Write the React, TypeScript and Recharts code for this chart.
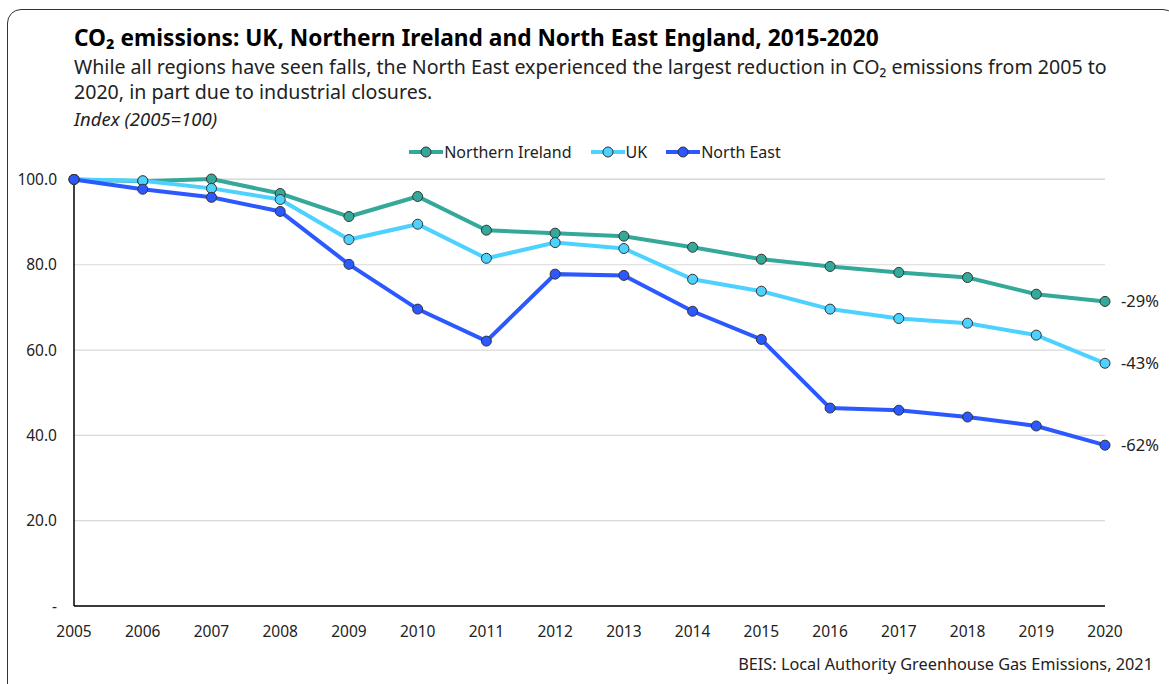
import React from "react";
import { LineChart, Line, XAxis, YAxis, CartesianGrid, LabelList } from "recharts";

const years = ["2005","2006","2007","2008","2009","2010","2011","2012","2013","2014","2015","2016","2017","2018","2019","2020"];
const northernIreland = [100, 99.6, 100.1, 96.7, 91.3, 96.0, 88.1, 87.4, 86.7, 84.1, 81.3, 79.6, 78.2, 77.0, 73.1, 71.4];
const uk = [100, 99.7, 97.9, 95.3, 85.9, 89.5, 81.5, 85.2, 83.8, 76.6, 73.8, 69.6, 67.4, 66.3, 63.5, 56.9];
const northEast = [100, 97.7, 95.8, 92.5, 80.1, 69.6, 62.1, 77.8, 77.5, 69.1, 62.5, 46.4, 45.9, 44.3, 42.2, 37.7];
const yTicks = [0, 20, 40, 60, 80, 100];

const series = [
  { key: "ni", name: "Northern Ireland", color: "#35A999", values: northernIreland },
  { key: "uk", name: "UK", color: "#4DD2FF", values: uk },
  { key: "ne", name: "North East", color: "#2B59FF", values: northEast },
];

const data = years.map((year, i) => ({
  year,
  ni: northernIreland[i],
  uk: uk[i],
  ne: northEast[i],
}));

const FONT = "'Noto Sans', 'Open Sans', sans-serif";

const LegendContent = () => (
  <div style={{ display: "flex", justifyContent: "center", alignItems: "center", fontFamily: FONT, fontSize: 16, color: "#222", lineHeight: "22px" }}>
    {series.map((s, i) => (
      <div key={s.key} style={{ display: "flex", alignItems: "center", marginLeft: i === 0 ? 0 : 19 }}>
        <svg width={34} height={14} style={{ marginRight: 1 }}>
          <line x1={0} y1={7} x2={34} y2={7} stroke={s.color} strokeWidth={4} />
          <circle cx={17} cy={7} r={5} fill={s.color} stroke="#333" strokeWidth={1} />
        </svg>
        <span>{s.name}</span>
      </div>
    ))}
  </div>
);

const makeEndLabel = (values: number[]) => (props: any) => {
  const { x, y, index } = props;
  if (index !== values.length - 1) return null;
  const pct = Math.round(values[values.length - 1] - values[0]);
  return (
    <text x={x + 16} y={y} dy={6} fontSize={16.5} fontFamily={FONT} fill="#222" textAnchor="start">
      {`${pct}%`}
    </text>
  );
};

export default function App() {
  return (
    <div style={{ position: "relative", width: 1169, height: 684, overflow: "hidden", background: "#fff" }}>
      <style>{`body{margin:0;overflow:hidden;}`}</style>
      <div
        style={{
          position: "absolute",
          left: 7,
          top: 9,
          width: 1170,
          height: 690,
          border: "1.5px solid #333",
          borderRadius: 14,
          boxSizing: "border-box",
        }}
      />
      <div style={{ position: "absolute", left: 74, top: 24, fontFamily: FONT, fontWeight: 700, fontSize: 22.7, color: "#000", whiteSpace: "nowrap", lineHeight: "28px" }}>
        CO₂ emissions: UK, Northern Ireland and North East England, 2015-2020
      </div>
      <div style={{ position: "absolute", left: 74, top: 54, fontFamily: FONT, fontSize: 19.6, color: "#222", whiteSpace: "nowrap", lineHeight: "25px" }}>
        While all regions have seen falls, the North East experienced the largest reduction in CO₂ emissions from 2005 to
        <br />
        2020, in part due to industrial closures.
      </div>
      <div style={{ position: "absolute", left: 74, top: 108, fontFamily: FONT, fontStyle: "italic", fontSize: 18.5, color: "#222", whiteSpace: "nowrap", lineHeight: "22px" }}>
        Index (2005=100)
      </div>
      <div style={{ position: "absolute", right: 16, top: 653, fontFamily: FONT, fontSize: 16.3, color: "#222", whiteSpace: "nowrap", lineHeight: "22px" }}>
        BEIS: Local Authority Greenhouse Gas Emissions, 2021
      </div>
      <div style={{ position: "absolute", left: 0, top: 141, width: 1190, height: 22 }}>
        <LegendContent />
      </div>
      <div style={{ position: "absolute", left: 0, top: 0 }}>
        <LineChart width={1169} height={684} data={data} margin={{ top: 179, right: 64, bottom: 48, left: 14 }}>
          <CartesianGrid vertical={false} stroke="#d9d9d9" strokeWidth={1.2} />
          <XAxis
            dataKey="year"
            height={30}
            tickLine={false}
            axisLine={{ stroke: "#000", strokeWidth: 1.5 }}
            tick={{ fontSize: 15.5, fontFamily: FONT, fill: "#222" }}
            tickSize={6}
            tickMargin={14}
            interval={0}
          />
          <YAxis
            width={60}
            domain={[0, 100]}
            ticks={yTicks}
            tickLine={false}
            axisLine={{ stroke: "#000", strokeWidth: 1.5 }}
            tick={{ fontSize: 15.5, fontFamily: FONT, fill: "#222" }}
            tickSize={6}
            tickMargin={11}
            tickFormatter={(v: number) => (v === 0 ? "-" : v.toFixed(1))}
          />
          {series.map((s) => (
            <Line
              key={s.key}
              dataKey={s.key}
              name={s.name}
              type="linear"
              stroke={s.color}
              strokeWidth={4}
              dot={{ r: 5, fill: s.color, stroke: "#333", strokeWidth: 1 }}
              activeDot={false}
              isAnimationActive={false}
            >
              <LabelList dataKey={s.key} content={makeEndLabel(s.values)} />
            </Line>
          ))}
        </LineChart>
      </div>
    </div>
  );
}
